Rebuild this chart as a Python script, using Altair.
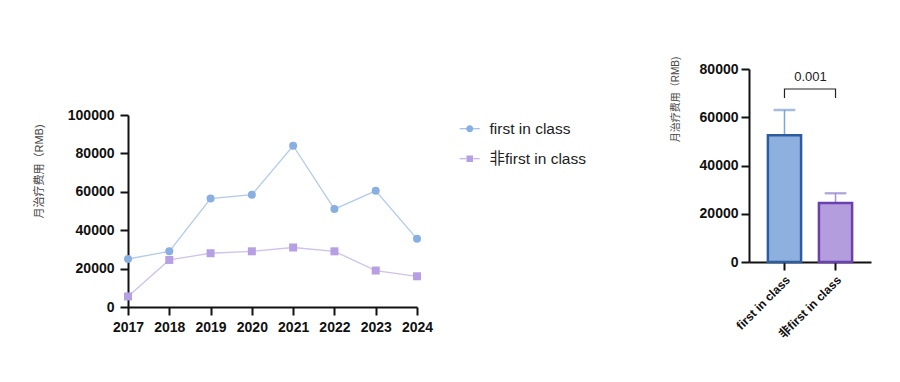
import altair as alt
import pandas as pd

# ---- data ----
years = ["2017", "2018", "2019", "2020", "2021", "2022", "2023", "2024"]
fic = [25000, 29000, 56500, 58500, 84000, 51000, 60500, 35500]
nfic = [5500, 24500, 28000, 29000, 31000, 29000, 19000, 16000]
groups = ["first in class", "非first in class"]
means = [52500, 24500]
uppers = [63000, 28500]
bracket_x = ["first in class", "first in class", "非first in class", "非first in class"]
bracket_y = [68000, 71700, 71700, 68000]
p_text = "0.001"
p_y = 76700

ytitle = "月治疗费用（RMB)"
FONT = "Liberation Sans, Arial, Noto Sans CJK SC"

line_df = pd.DataFrame({
    "year": years * 2,
    "value": fic + nfic,
    "group": [groups[0]] * len(years) + [groups[1]] * len(years),
})
bar_df = pd.DataFrame({"group": groups, "mean": means, "upper": uppers})
br_df = pd.DataFrame({"group": bracket_x, "y": bracket_y, "o": list(range(4))})
txt_df = pd.DataFrame({"group": [groups[0]], "y": [p_y], "t": [p_text]})

pt_colors = ["#88afe1", "#b79fe4"]

seg = "M-1.7,-0.07H-0.6V0.07H-1.7ZM0.6,-0.07H1.7V0.07H0.6Z"
circle_leg = seg + "M-0.6,0A0.6,0.6 0 1,0 0.6,0A0.6,0.6 0 1,0 -0.6,0Z"
square_leg = seg + "M-0.55,-0.55H0.55V0.55H-0.55Z"

legend = alt.Legend(
    title=None, orient="none", legendX=334, legendY=52,
    labelFontSize=15.5, labelFont=FONT, labelColor="#222", labelFontWeight="normal",
    symbolSize=139, symbolStrokeWidth=0, rowPadding=13, labelOffset=12,
)

color = alt.Color("group:N", scale=alt.Scale(domain=groups, range=pt_colors), legend=legend)

x_left = alt.X("year:O", scale=alt.Scale(type="point", padding=0),
               axis=alt.Axis(title=None, labelAngle=0, labelPadding=5))
y_left = alt.Y("value:Q", scale=alt.Scale(domain=[0, 100000]),
               axis=alt.Axis(title=ytitle, values=[0, 20000, 40000, 60000, 80000, 100000], format="d",
                             titleFontSize=11, titlePadding=23, titleY=56, labelPadding=6))

base_l = alt.Chart(line_df)
leg_layer = base_l.mark_point(filled=True, opacity=1).encode(
    x=x_left, y=y_left, color=color,
    shape=alt.Shape("group:N", scale=alt.Scale(domain=groups, range=[circle_leg, square_leg]), legend=legend),
).transform_filter("false")
lines = base_l.mark_line(strokeWidth=1.3, opacity=0.65).encode(
    x=x_left, y=y_left, color=color)
pts_c = base_l.mark_point(filled=True, size=64, opacity=1, shape="circle").encode(
    x=x_left, y=y_left, color=color).transform_filter(alt.datum.group == groups[0])
pts_s = base_l.mark_point(filled=True, size=64, opacity=1, shape="square").encode(
    x=x_left, y=y_left, color=color).transform_filter(alt.datum.group == groups[1])

left_plot = alt.layer(leg_layer, lines, pts_c, pts_s).properties(width=289, height=192)

spacer = alt.Chart(pd.DataFrame({"a": [0]})).mark_point(opacity=0).encode(
    x=alt.value(0), y=alt.value(0)).properties(width=289, height=39)

left = alt.vconcat(spacer, left_plot, spacing=0)

x_right = alt.X("group:N", sort=groups,
                scale=alt.Scale(paddingInner=0.35, paddingOuter=0.37),
                axis=alt.Axis(title=None, labelAngle=-45, labelFontSize=12, labelPadding=4))
y_right = alt.Y("mean:Q", scale=alt.Scale(domain=[0, 80000]),
                axis=alt.Axis(title=ytitle, values=[0, 20000, 40000, 60000, 80000], format="d",
                              titleFontSize=10, titlePadding=19, titleY=30, labelPadding=3))

fill = alt.Fill("group:N", scale=alt.Scale(domain=groups, range=["#8db0df", "#b39ddc"]), legend=None)
stroke = alt.Stroke("group:N", scale=alt.Scale(domain=groups, range=["#2e5d9f", "#6a40ae"]), legend=None)
err_stroke = alt.Stroke("group:N", scale=alt.Scale(domain=groups, range=["#7ea5d9", "#a98fdc"]), legend=None)

err = alt.Chart(bar_df).mark_rule(strokeWidth=1.5).encode(
    x=x_right, y=y_right, y2="upper:Q", stroke=err_stroke)
bars = alt.Chart(bar_df).mark_bar(strokeWidth=2.5).encode(
    x=x_right, y=y_right, fill=fill, stroke=stroke)
caps = alt.Chart(bar_df).mark_tick(thickness=1.5, size=21).encode(
    x=x_right, y=alt.Y("upper:Q"), stroke=err_stroke)
bracket = alt.Chart(br_df).mark_line(color="#222", strokeWidth=1.2).encode(
    x=x_right, y=alt.Y("y:Q"), order="o:Q")
ptxt = alt.Chart(txt_df).mark_text(dx=26, fontSize=13, font=FONT, color="#222").encode(
    x=x_right, y=alt.Y("y:Q"), text="t:N")

right = alt.layer(err, bars, caps, bracket, ptxt).resolve_scale(stroke="independent").properties(
    width=122, height=193)

chart = alt.hconcat(left, right, spacing=237).properties(
    padding={"left": 25, "top": 48, "right": 5, "bottom": 5}
).configure_view(stroke=None).configure_axis(
    labelFont=FONT, labelFontSize=14, labelFontWeight="bold", labelColor="#111",
    titleFont=FONT, titleFontWeight="normal", titleColor="#444",
    domainColor="#111", domainWidth=2, tickColor="#111", tickWidth=2, tickSize=8,
    grid=False,
)

chart.save("out.html", embed_options={"renderer": "svg", "actions": False})
